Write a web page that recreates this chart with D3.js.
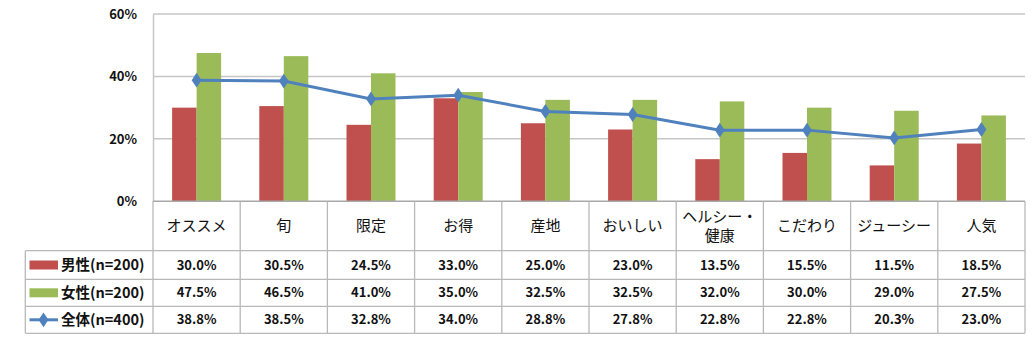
<!DOCTYPE html>
<html><head><meta charset="utf-8">
<script src="https://cdn.jsdelivr.net/npm/d3@7"></script>
<style>
body{margin:0;background:#fff;}
text{font-family:"Noto Sans CJK JP","Noto Sans",sans-serif;fill:#111;}
</style></head>
<body><svg id="c" width="1034" height="343"></svg>
<script>
const categories = ["オススメ","旬","限定","お得","産地","おいしい","ヘルシー・\n健康","こだわり","ジューシー","人気"];
const male = [30.0,30.5,24.5,33.0,25.0,23.0,13.5,15.5,11.5,18.5];
const female = [47.5,46.5,41.0,35.0,32.5,32.5,32.0,30.0,29.0,27.5];
const total = [38.8,38.5,32.8,34.0,28.8,27.8,22.8,22.8,20.3,23.0];
const seriesNames = ["男性(n=200)","女性(n=200)","全体(n=400)"];
const yTicks = [0,20,40,60];

const colors = {male:"#C0504D", female:"#9BBB59", total:"#4F81BD"};
const svg = d3.select("#c");
const L = 153, R = 1025, T = 14, B = 201.3;
const x = d3.scaleBand().domain(categories).range([L,R]).paddingInner(0).paddingOuter(0);
const y = d3.scaleLinear().domain([0,60]).range([B,T]);
const gridC = "#c6c6c6";

// gridlines
svg.append("g").selectAll("line").data(yTicks.filter(d=>d>0)).join("line")
  .attr("x1",L).attr("x2",R).attr("y1",d=>y(d)).attr("y2",d=>y(d))
  .attr("stroke",gridC).attr("stroke-width",1.5);
// y axis
const yAxis = svg.append("g").attr("transform",`translate(${L},0)`)
  .call(d3.axisLeft(y).tickValues(yTicks).tickFormat(d=>d+"%").tickSize(0).tickPadding(16));
yAxis.select(".domain").attr("stroke",gridC).attr("stroke-width",1.5);
yAxis.selectAll("text").style("font-size","13px").style("font-weight","bold").attr("fill","#111");

// bars
const bw = 24.5;
const cx = d => x(d) + x.bandwidth()/2;
svg.append("g").selectAll("rect").data(categories).join("rect")
  .attr("x",d=>cx(d)-bw).attr("width",bw)
  .attr("y",(d,i)=>y(male[i])).attr("height",(d,i)=>B-y(male[i]))
  .attr("fill",colors.male);
svg.append("g").selectAll("rect").data(categories).join("rect")
  .attr("x",d=>cx(d)).attr("width",bw)
  .attr("y",(d,i)=>y(female[i])).attr("height",(d,i)=>B-y(female[i]))
  .attr("fill",colors.female);

// line
const line = d3.line().x((d,i)=>cx(categories[i])).y(d=>y(d));
svg.append("path").datum(total).attr("d",line).attr("fill","none")
  .attr("stroke",colors.total).attr("stroke-width",3);
const diamond = d3.symbol().type(d3.symbolDiamond).size(70);
svg.append("g").selectAll("path").data(total).join("path")
  .attr("d",diamond).attr("transform",(d,i)=>`translate(${cx(categories[i])},${y(d)}) scale(1.1,0.95)`)
  .attr("fill",colors.total);

// table
const rowY = [B, 250.7, 279.3, 306.3, 333.3];
const TL = 25.3;
const tb = svg.append("g");
const tc = "#b8b8b8";
// horizontal lines
tb.append("line").attr("x1",L).attr("x2",R).attr("y1",B).attr("y2",B).attr("stroke","#a8a8a8").attr("stroke-width",1.5);
[1,2,3,4].forEach(k=>{
  tb.append("line").attr("x1",TL).attr("x2",R).attr("y1",rowY[k]).attr("y2",rowY[k]).attr("stroke",tc).attr("stroke-width",1.3);
});
// verticals
tb.append("line").attr("x1",TL).attr("x2",TL).attr("y1",rowY[1]).attr("y2",rowY[4]).attr("stroke",tc).attr("stroke-width",1.3);
categories.forEach(c=>{
  tb.append("line").attr("x1",x(c)).attr("x2",x(c)).attr("y1",B).attr("y2",rowY[4]).attr("stroke",tc).attr("stroke-width",1.3);
});
tb.append("line").attr("x1",R).attr("x2",R).attr("y1",B).attr("y2",rowY[4]).attr("stroke",tc).attr("stroke-width",1.3);

// category labels
categories.forEach(c=>{
  const lines = c.split("\n");
  const t = tb.append("text").attr("text-anchor","middle").style("font-size","15px");
  const mid = (rowY[0]+rowY[1])/2;
  const lh = 19;
  lines.forEach((s,j)=>{
    t.append("tspan").attr("x",cx(c)).attr("y",mid + (j-(lines.length-1)/2)*lh).attr("dy","0.35em").text(s);
  });
});
// values
[male,female,total].forEach((arr,k)=>{
  const my = (rowY[k+1]+rowY[k+2])/2;
  tb.append("g").selectAll("text").data(arr).join("text")
    .attr("x",(d,i)=>cx(categories[i])).attr("y",my).attr("dy","0.35em")
    .attr("text-anchor","middle").style("font-size","13px").style("font-weight","bold")
    .text(d=>d.toFixed(1)+"%");
  // legend
  const lg = tb.append("g");
  if(k<2){
    lg.append("rect").attr("x",29.5).attr("y",my-4.5).attr("width",28.5).attr("height",9).attr("fill",k===0?colors.male:colors.female);
  } else {
    lg.append("line").attr("x1",29.5).attr("x2",58).attr("y1",my).attr("y2",my).attr("stroke",colors.total).attr("stroke-width",3);
    lg.append("path").attr("d",diamond).attr("transform",`translate(43.5,${my}) scale(1.1,0.95)`).attr("fill",colors.total);
  }
  lg.append("text").attr("x",61).attr("y",my).attr("dy","0.35em").style("font-size","14.5px").style("font-weight","bold").text(seriesNames[k]);
});
</script></body></html>
